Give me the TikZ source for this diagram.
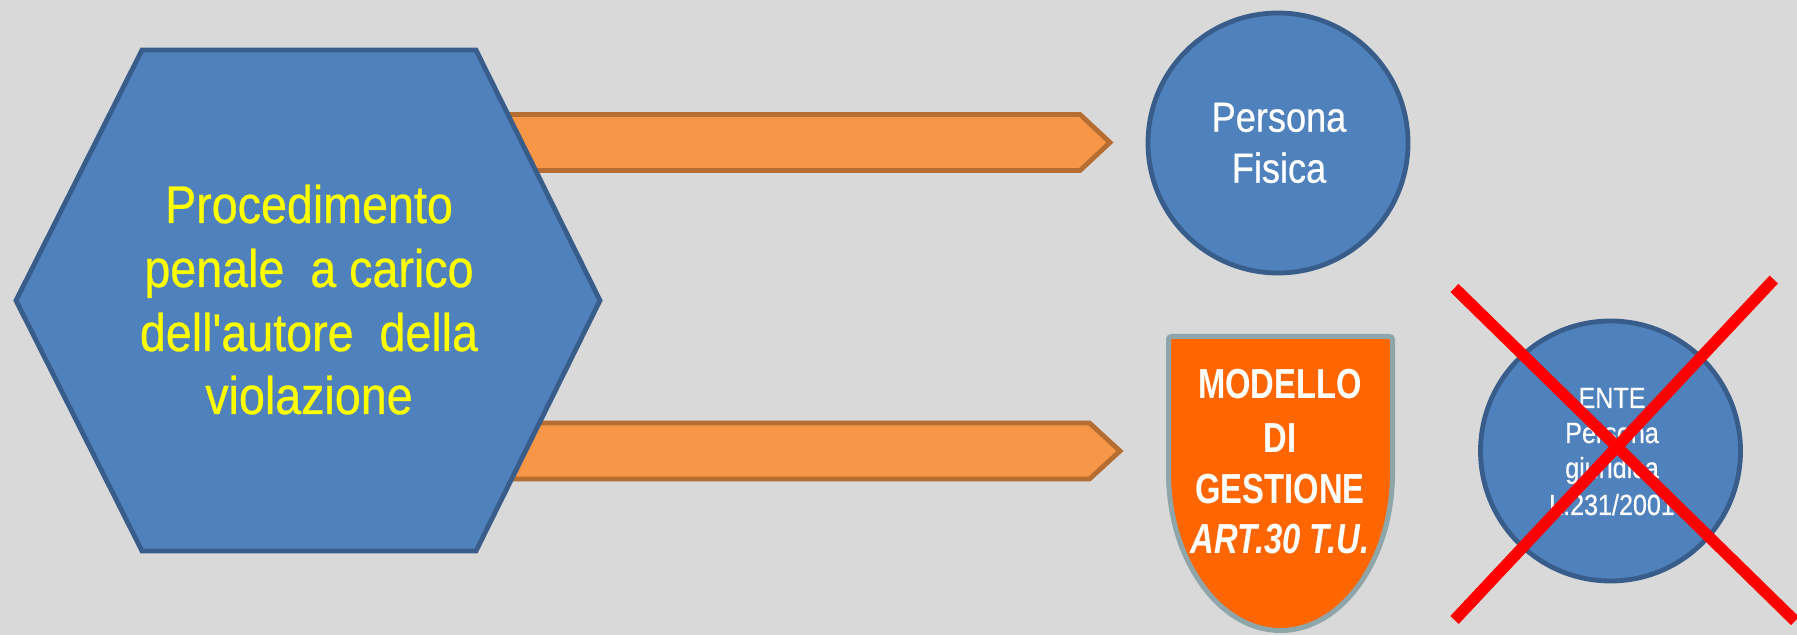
\documentclass[tikz,border=0pt]{standalone}
\usepackage{fontspec}
\newfontfamily\hexfont[FakeStretch=0.88,FakeBold=0.5]{Liberation Sans}
\newfontfamily\condfont[FakeStretch=0.86,FakeBold=0.5]{Liberation Sans}
\newfontfamily\shieldfont[FakeStretch=0.78]{Liberation Sans}
\definecolor{bg}{HTML}{D9D9D9}
\definecolor{bluefill}{HTML}{4F81BD}
\definecolor{blueline}{HTML}{385D8A}
\definecolor{arrfill}{HTML}{F79646}
\definecolor{arrline}{HTML}{B66D31}
\definecolor{shieldfill}{HTML}{FF6600}
\definecolor{shieldline}{HTML}{8EA5A9}
\definecolor{xred}{HTML}{FF0000}
\definecolor{txtyellow}{HTML}{FFFF00}
\begin{document}
\begin{tikzpicture}[x=0.5pt,y=-0.5pt,
  bluebox/.style={fill=bluefill,draw=blueline,line width=2.4pt,line join=miter},
  blockarrow/.style={fill=arrfill,draw=arrline,line width=2.4pt,line join=miter},
  shieldbox/.style={fill=shieldfill,draw=shieldline,line width=2.5pt,rounded corners=1.5pt},
  crossline/.style={draw=xred,line width=5.75pt,line cap=butt},
  hextxt/.style={inner sep=0pt,anchor=base,text=txtyellow,font=\hexfont\fontsize{26.5pt}{32pt}\selectfont},
  circtxt/.style={inner sep=0pt,anchor=base,text=white,font=\condfont\fontsize{21pt}{25pt}\selectfont},
  shtxt/.style={inner sep=0pt,anchor=base,text=white,font=\shieldfont\bfseries\fontsize{21pt}{25pt}\selectfont},
  entetxt/.style={inner sep=0pt,anchor=base,text=white,font=\condfont\fontsize{14.6pt}{17pt}\selectfont}]
\fill[bg] (0,0) rectangle (1797,635);
\useasboundingbox (0,0) rectangle (1797,635);

% block arrows (behind the hexagon)
\draw[blockarrow] (420,114.5) -- (1080,114.5) -- (1110,142.5) -- (1080,170.5) -- (420,170.5) -- cycle;
\draw[blockarrow] (420,423) -- (1089.5,423) -- (1120,451) -- (1089.5,479) -- (420,479) -- cycle;

% hexagon
\draw[bluebox] (142,50) -- (476,50) -- (600,300.5) -- (476,551) -- (142,551) -- (16,300.5) -- cycle;
\node[hextxt] (h1) at (309,223) {Procedimento};
\node[hextxt] (h2) at (309,287) {penale\ \ a carico};
\node[hextxt] (h3) at (309,351) {dell'autore\ \ della};
\node[hextxt] (h4) at (309,414) {violazione};

% Persona Fisica
\draw[bluebox] (1278,143) circle[radius=130];
\node[circtxt] (pf1) at (1279,131.7) {Persona};
\node[circtxt] (pf2) at (1279,182.7) {Fisica};

% shield
\draw[shieldbox] (1168.5,470) -- (1168.5,336.5) -- (1392.5,336.5) -- (1392.5,470)
  arc[start angle=0,end angle=180,x radius=112,y radius=160.5] -- cycle;
\node[shtxt] (s1) at (1280,399) {MODELLO};
\node[shtxt] (s2) at (1280,452) {DI};
\node[shtxt] (s3) at (1280,503) {GESTIONE};
\node[shtxt,font=\shieldfont\bfseries\itshape\fontsize{21pt}{25pt}\selectfont] (s4) at (1280,553) {ART.30 T.U.};

% ENTE
\draw[bluebox] (1610.5,451) circle[radius=130];
\node[entetxt] (e1) at (1612,408) {ENTE};
\node[entetxt] (e2) at (1612,443) {Persona};
\node[entetxt] (e3) at (1612,478) {giuridica};
\node[entetxt] (e4) at (1612,515) {L.231/2001};

% red cross
\coordinate (xa1) at (1454.5,288);
\coordinate (xa2) at (1795,621);
\coordinate (xb1) at (1773.8,279.5);
\coordinate (xb2) at (1454.5,620);
\draw[crossline] (xa1) -- (xa2);
\draw[crossline] (xb1) -- (xb2);
\end{tikzpicture}
\end{document}
